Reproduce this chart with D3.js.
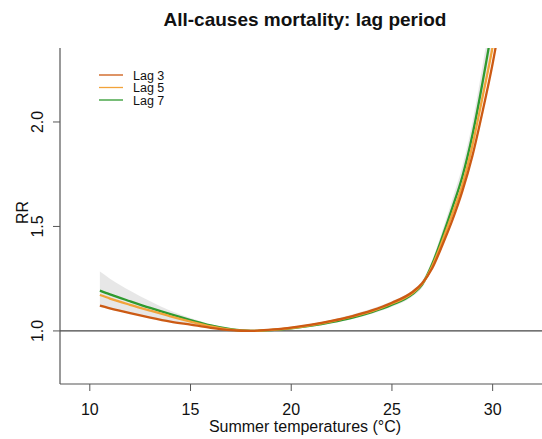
<!DOCTYPE html>
<html>
<head>
<meta charset="utf-8">
<script src="https://cdn.jsdelivr.net/npm/d3@7"></script>
<style>
  html, body { margin: 0; padding: 0; background: #fff; }
  svg { display: block; font-family: "Liberation Sans", Arial, sans-serif; }
</style>
</head>
<body>
<svg id="chart" width="542" height="439"></svg>
<script>
// Temperature grid (°C) for the exposure-response curves
const temps = [10.5, 11, 12, 13, 14, 15, 16, 17, 18, 19, 20, 21, 22, 23, 24, 25, 26, 26.5, 27, 27.5, 28, 28.5, 29, 29.5, 30, 30.5];

// Relative risk by lag period
const lag3 = [1.121, 1.108, 1.085, 1.064, 1.045, 1.030, 1.015, 1.004, 1.000, 1.006, 1.016, 1.030, 1.048, 1.070, 1.098, 1.135, 1.185, 1.228, 1.300, 1.410, 1.530, 1.670, 1.840, 2.050, 2.280, 2.550];
const lag5 = [1.172, 1.155, 1.125, 1.097, 1.070, 1.045, 1.022, 1.006, 1.000, 1.005, 1.014, 1.028, 1.046, 1.068, 1.095, 1.131, 1.180, 1.225, 1.310, 1.430, 1.560, 1.700, 1.890, 2.120, 2.360, 2.650];
const lag7 = [1.193, 1.175, 1.142, 1.110, 1.080, 1.052, 1.026, 1.008, 1.000, 1.004, 1.012, 1.025, 1.042, 1.063, 1.090, 1.125, 1.175, 1.222, 1.320, 1.450, 1.590, 1.740, 1.940, 2.190, 2.470, 2.800];

// 95% confidence band
const ciLow  = [1.115, 1.104, 1.083, 1.063, 1.045, 1.030, 1.015, 1.004, 1.000, 1.002, 1.009, 1.020, 1.036, 1.056, 1.082, 1.116, 1.164, 1.208, 1.300, 1.420, 1.550, 1.690, 1.880, 2.110, 2.370, 2.650];
const ciHigh = [1.284, 1.250, 1.192, 1.142, 1.097, 1.062, 1.032, 1.010, 1.000, 1.008, 1.019, 1.034, 1.054, 1.078, 1.106, 1.142, 1.192, 1.240, 1.340, 1.480, 1.630, 1.790, 2.000, 2.270, 2.570, 2.930];

const xTicks = [10, 15, 20, 25, 30];
const yTicks = [1.0, 1.5, 2.0];

const series = [
  { name: "Lag 3", values: lag3, color: "#cc5a14" },
  { name: "Lag 5", values: lag5, color: "#f2a33a" },
  { name: "Lag 7", values: lag7, color: "#2f9a2f" }
];

const svg = d3.select("#chart");
const plot = { left: 60, right: 542, top: 48, bottom: 384 };

const x = d3.scaleLinear().domain([8.52, 32.45]).range([plot.left, plot.right]);
const y = d3.scaleLinear().domain([0.746, 2.354]).range([plot.bottom, plot.top]);

svg.append("defs").append("clipPath").attr("id", "plotClip")
  .append("rect")
  .attr("x", plot.left).attr("y", plot.top)
  .attr("width", plot.right - plot.left).attr("height", plot.bottom - plot.top);

const g = svg.append("g").attr("clip-path", "url(#plotClip)");

// Confidence band
const band = d3.area()
  .x((d, i) => x(temps[i]))
  .y0((d, i) => y(ciLow[i]))
  .y1((d, i) => y(ciHigh[i]))
  .curve(d3.curveMonotoneX);
g.append("path")
  .datum(temps)
  .attr("d", band)
  .attr("fill", "#cfcfcf")
  .attr("fill-opacity", 0.5);

// Reference line at RR = 1
g.append("line")
  .attr("x1", plot.left).attr("x2", plot.right)
  .attr("y1", y(1)).attr("y2", y(1))
  .attr("stroke", "#444").attr("stroke-width", 1.2);

// Curves (drawn so Lag 3 ends on top)
const line = d3.line()
  .x((d, i) => x(temps[i]))
  .y(d => y(d))
  .curve(d3.curveMonotoneX);

[series[2], series[1], series[0]].forEach(s => {
  g.append("path")
    .datum(s.values)
    .attr("d", line)
    .attr("fill", "none")
    .attr("stroke", s.color)
    .attr("stroke-width", 2.3);
});

// Axes (L-shaped frame)
const axisColor = "#555";
svg.append("line")
  .attr("x1", plot.left).attr("x2", plot.left)
  .attr("y1", plot.top).attr("y2", plot.bottom)
  .attr("stroke", axisColor).attr("stroke-width", 1.2);
svg.append("line")
  .attr("x1", plot.left).attr("x2", plot.right)
  .attr("y1", plot.bottom).attr("y2", plot.bottom)
  .attr("stroke", axisColor).attr("stroke-width", 1.2);

const xAxis = svg.append("g");
xAxis.selectAll("line").data(xTicks).join("line")
  .attr("x1", d => x(d)).attr("x2", d => x(d))
  .attr("y1", plot.bottom).attr("y2", plot.bottom + 7)
  .attr("stroke", axisColor).attr("stroke-width", 1);
xAxis.selectAll("text").data(xTicks).join("text")
  .attr("x", d => x(d)).attr("y", 415)
  .attr("text-anchor", "middle")
  .attr("font-size", 16).attr("fill", "#111")
  .text(d => d);

const yAxis = svg.append("g");
yAxis.selectAll("line").data(yTicks).join("line")
  .attr("x1", plot.left - 7).attr("x2", plot.left)
  .attr("y1", d => y(d)).attr("y2", d => y(d))
  .attr("stroke", axisColor).attr("stroke-width", 1);
yAxis.selectAll("text").data(yTicks).join("text")
  .attr("transform", d => `translate(43,${y(d)}) rotate(-90)`)
  .attr("text-anchor", "middle")
  .attr("font-size", 16).attr("fill", "#111")
  .text(d => d.toFixed(1));

// Axis titles
svg.append("text")
  .attr("x", 305).attr("y", 432)
  .attr("text-anchor", "middle")
  .attr("font-size", 16).attr("fill", "#111")
  .text("Summer temperatures (°C)");
svg.append("text")
  .attr("transform", `translate(28,${y(1.5) - 14}) rotate(-90)`)
  .attr("text-anchor", "middle")
  .attr("font-size", 16).attr("fill", "#111")
  .text("RR");

// Title
svg.append("text")
  .attr("x", 305).attr("y", 26)
  .attr("text-anchor", "middle")
  .attr("font-size", 19).attr("font-weight", "bold").attr("fill", "#111")
  .text("All-causes mortality: lag period");

// Legend
const legend = svg.append("g");
series.forEach((s, i) => {
  const ly = 75 + i * 12.5;
  legend.append("line")
    .attr("x1", 99).attr("x2", 123)
    .attr("y1", ly).attr("y2", ly)
    .attr("stroke", s.color).attr("stroke-width", 1.3);
  legend.append("text")
    .attr("x", 133).attr("y", ly + 4.5)
    .attr("font-size", 12.5).attr("fill", "#111")
    .text(s.name);
});
</script>
</body>
</html>
